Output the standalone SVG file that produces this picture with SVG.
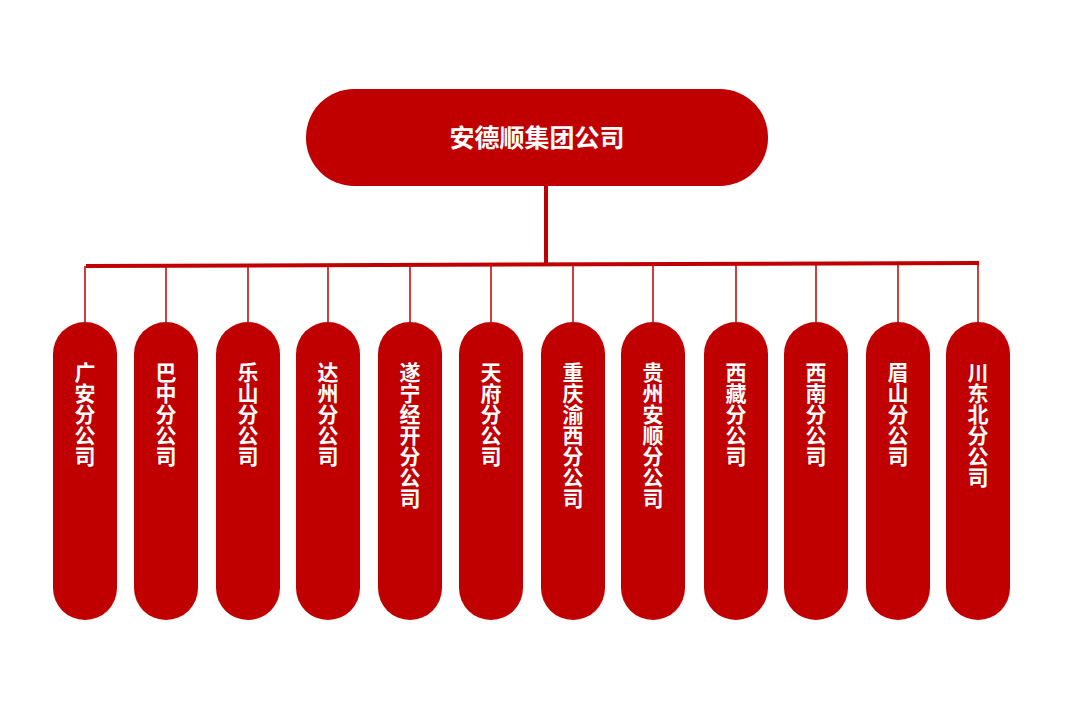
<svg xmlns="http://www.w3.org/2000/svg" width="1083" height="721" viewBox="0 0 1083 721">
<style>
.n{fill:#C00000}
.t{fill:#fff;font-family:"Noto Sans CJK SC",sans-serif;font-weight:bold;font-size:21px}
.v{writing-mode:vertical-rl;text-anchor:start}
.l{stroke:#C00000;fill:none}
</style>
<rect width="1083" height="721" fill="#fff"/>
<g id="connectors">
<line class="l" x1="546" y1="186" x2="546" y2="264" stroke-width="4"/>
<line class="l" x1="86" y1="266" x2="979" y2="263" stroke-width="4"/>
<path class="l" stroke-width="1.5" d="M85 266V322M166 266V322M248 265V322M328 265V322M410 265V322M491 265V322M573 264V322M653 264V322M736 264V322M816 264V322M898 264V322M978 264V322"/>
</g>
<g id="root"><rect class="n" x="306" y="89" width="462" height="97" rx="48"/><text class="t" x="537" y="147" text-anchor="middle" style="font-size:25px">安德顺集团公司</text></g>
<g id="n1"><rect class="n" x="53" y="322" width="64" height="298" rx="32"/><text class="t v" x="85" y="362">广安分公司</text></g>
<g id="n2"><rect class="n" x="134" y="322" width="64" height="298" rx="32"/><text class="t v" x="166" y="362">巴中分公司</text></g>
<g id="n3"><rect class="n" x="216" y="322" width="64" height="298" rx="32"/><text class="t v" x="248" y="362">乐山分公司</text></g>
<g id="n4"><rect class="n" x="296" y="322" width="64" height="298" rx="32"/><text class="t v" x="328" y="362">达州分公司</text></g>
<g id="n5"><rect class="n" x="378" y="322" width="64" height="298" rx="32"/><text class="t v" x="410" y="362">遂宁经开分公司</text></g>
<g id="n6"><rect class="n" x="459" y="322" width="64" height="298" rx="32"/><text class="t v" x="491" y="362">天府分公司</text></g>
<g id="n7"><rect class="n" x="541" y="322" width="64" height="298" rx="32"/><text class="t v" x="573" y="362">重庆渝西分公司</text></g>
<g id="n8"><rect class="n" x="621" y="322" width="64" height="298" rx="32"/><text class="t v" x="653" y="362">贵州安顺分公司</text></g>
<g id="n9"><rect class="n" x="704" y="322" width="64" height="298" rx="32"/><text class="t v" x="736" y="362">西藏分公司</text></g>
<g id="n10"><rect class="n" x="784" y="322" width="64" height="298" rx="32"/><text class="t v" x="816" y="362">西南分公司</text></g>
<g id="n11"><rect class="n" x="866" y="322" width="64" height="298" rx="32"/><text class="t v" x="898" y="362">眉山分公司</text></g>
<g id="n12"><rect class="n" x="946" y="322" width="64" height="298" rx="32"/><text class="t v" x="978" y="362">川东北分公司</text></g>
</svg>
